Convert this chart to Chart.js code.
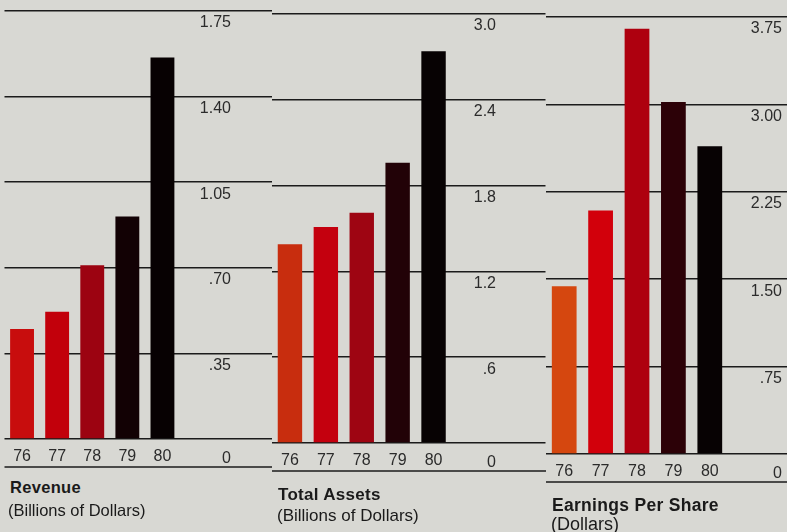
<!DOCTYPE html>
<html>
<head>
<meta charset="utf-8">
<script src="https://cdn.jsdelivr.net/npm/chart.js@4.4.0/dist/chart.umd.min.js"></script>
<style>
  body { margin: 0; background: #d8d8d3; }
  #wrap { position: relative; width: 787px; height: 532px; overflow: hidden; font-family: "Liberation Sans", Arial, sans-serif; color: #1a1a1a; }
  canvas { position: absolute; }
  .cap { position: absolute; white-space: nowrap; line-height: 20px; }
  .cap.bold { font-weight: bold; letter-spacing: 0.3px; }
</style>
</head>
<body>
<div id="wrap">
  <canvas id="revChart" width="272" height="466" style="left:0;top:7px"></canvas>
  <canvas id="assetChart" width="274" height="467" style="left:272px;top:10px"></canvas>
  <canvas id="epsChart" width="241" height="475" style="left:546px;top:13px"></canvas>

  <div class="cap bold" style="left:10px;top:477px;font-size:16.5px">Revenue</div>
  <div class="cap" style="left:8px;top:500px;font-size:16.5px">(Billions of Dollars)</div>
  <div class="cap bold" style="left:278px;top:485px;font-size:17px">Total Assets</div>
  <div class="cap" style="left:277px;top:506px;font-size:17px">(Billions of Dollars)</div>
  <div class="cap bold" style="left:552px;top:495px;font-size:17.5px">Earnings Per Share</div>
  <div class="cap" style="left:551px;top:514px;font-size:18px">(Dollars)</div>
</div>

<script>
  const years = ["76", "77", "78", "79", "80"];

  const revenue = [0.45, 0.52, 0.71, 0.91, 1.56];
  const revenueTicks = [0, 0.35, 0.70, 1.05, 1.40, 1.75];
  const revenueTickLabels = ["0", ".35", ".70", "1.05", "1.40", "1.75"];

  const assets = [1.39, 1.51, 1.61, 1.96, 2.74];
  const assetTicks = [0, 0.6, 1.2, 1.8, 2.4, 3.0];
  const assetTickLabels = ["0", ".6", "1.2", "1.8", "2.4", "3.0"];

  const eps = [1.44, 2.09, 3.65, 3.02, 2.64];
  const epsTicks = [0, 0.75, 1.50, 2.25, 3.00, 3.75];
  const epsTickLabels = ["0", ".75", "1.50", "2.25", "3.00", "3.75"];

  const revenueColors = ["#c80d0d", "#c2000b", "#9c0311", "#120104", "#070102"];
  const assetColors = ["#c82d0e", "#c4000e", "#9e0512", "#220207", "#070203"];
  const epsColors = ["#d5470f", "#d2000b", "#ae000f", "#2c0107", "#070203"];

  const lineColor = "#1b1b1b";
  const textColor = "#2b2b2b";
  const tickFont = { family: "Liberation Sans", size: 16 };

  // line under the year labels
  const underLine = {
    id: "underLine",
    afterDraw(chart) {
      const { ctx, chartArea } = chart;
      const y = chartArea.bottom + 28;
      ctx.save();
      ctx.strokeStyle = lineColor;
      ctx.lineWidth = 1.5;
      ctx.beginPath();
      ctx.moveTo(chartArea.left, y);
      ctx.lineTo(chart.width, y);
      ctx.stroke();
      ctx.restore();
    }
  };

  function makePanel(canvasId, values, colors, tickValues, tickLabels, padLeft, padRight, axisWidth, lineReach) {
    const ctx = document.getElementById(canvasId).getContext("2d");
    return new Chart(ctx, {
      type: "bar",
      data: {
        labels: years,
        datasets: [{
          data: values,
          backgroundColor: colors,
          borderWidth: 0,
          barPercentage: 0.68,
          categoryPercentage: 1
        }]
      },
      options: {
        responsive: false,
        animation: false,
        layout: { padding: { left: padLeft, top: 4, right: padRight, bottom: 4 } },
        plugins: { legend: { display: false }, tooltip: { enabled: false } },
        scales: {
          x: {
            grid: { display: false },
            border: { display: false },
            ticks: { color: textColor, font: tickFont, padding: 0 },
            afterFit(scale) { scale.height = 30; }
          },
          y: {
            position: "right",
            min: tickValues[0],
            max: tickValues[tickValues.length - 1],
            afterBuildTicks(scale) { scale.ticks = tickValues.map(v => ({ value: v })); },
            afterFit(scale) { scale.width = axisWidth; },
            grid: { color: lineColor, lineWidth: 1.6, drawTicks: true, tickLength: lineReach },
            border: { display: false },
            ticks: {
              color: textColor,
              font: { family: "Liberation Sans", size: 16, lineHeight: 0.9 },
              crossAlign: "far",
              padding: -20,
              labelOffset: 12,
              // the zero label sits a little lower, between the two base lines
              callback: (value, index) => index === 0 ? ["", tickLabels[index]] : tickLabels[index]
            }
          }
        }
      },
      plugins: [underLine]
    });
  }

  makePanel("revChart", revenue, revenueColors, revenueTicks, revenueTickLabels, 4.5, 41, 51, 92);
  makePanel("assetChart", assets, assetColors, assetTicks, assetTickLabels, 0, 50, 44.5, 94);
  makePanel("epsChart", eps, epsColors, epsTicks, epsTickLabels, 0, 5, 54, 59);
</script>
</body>
</html>
